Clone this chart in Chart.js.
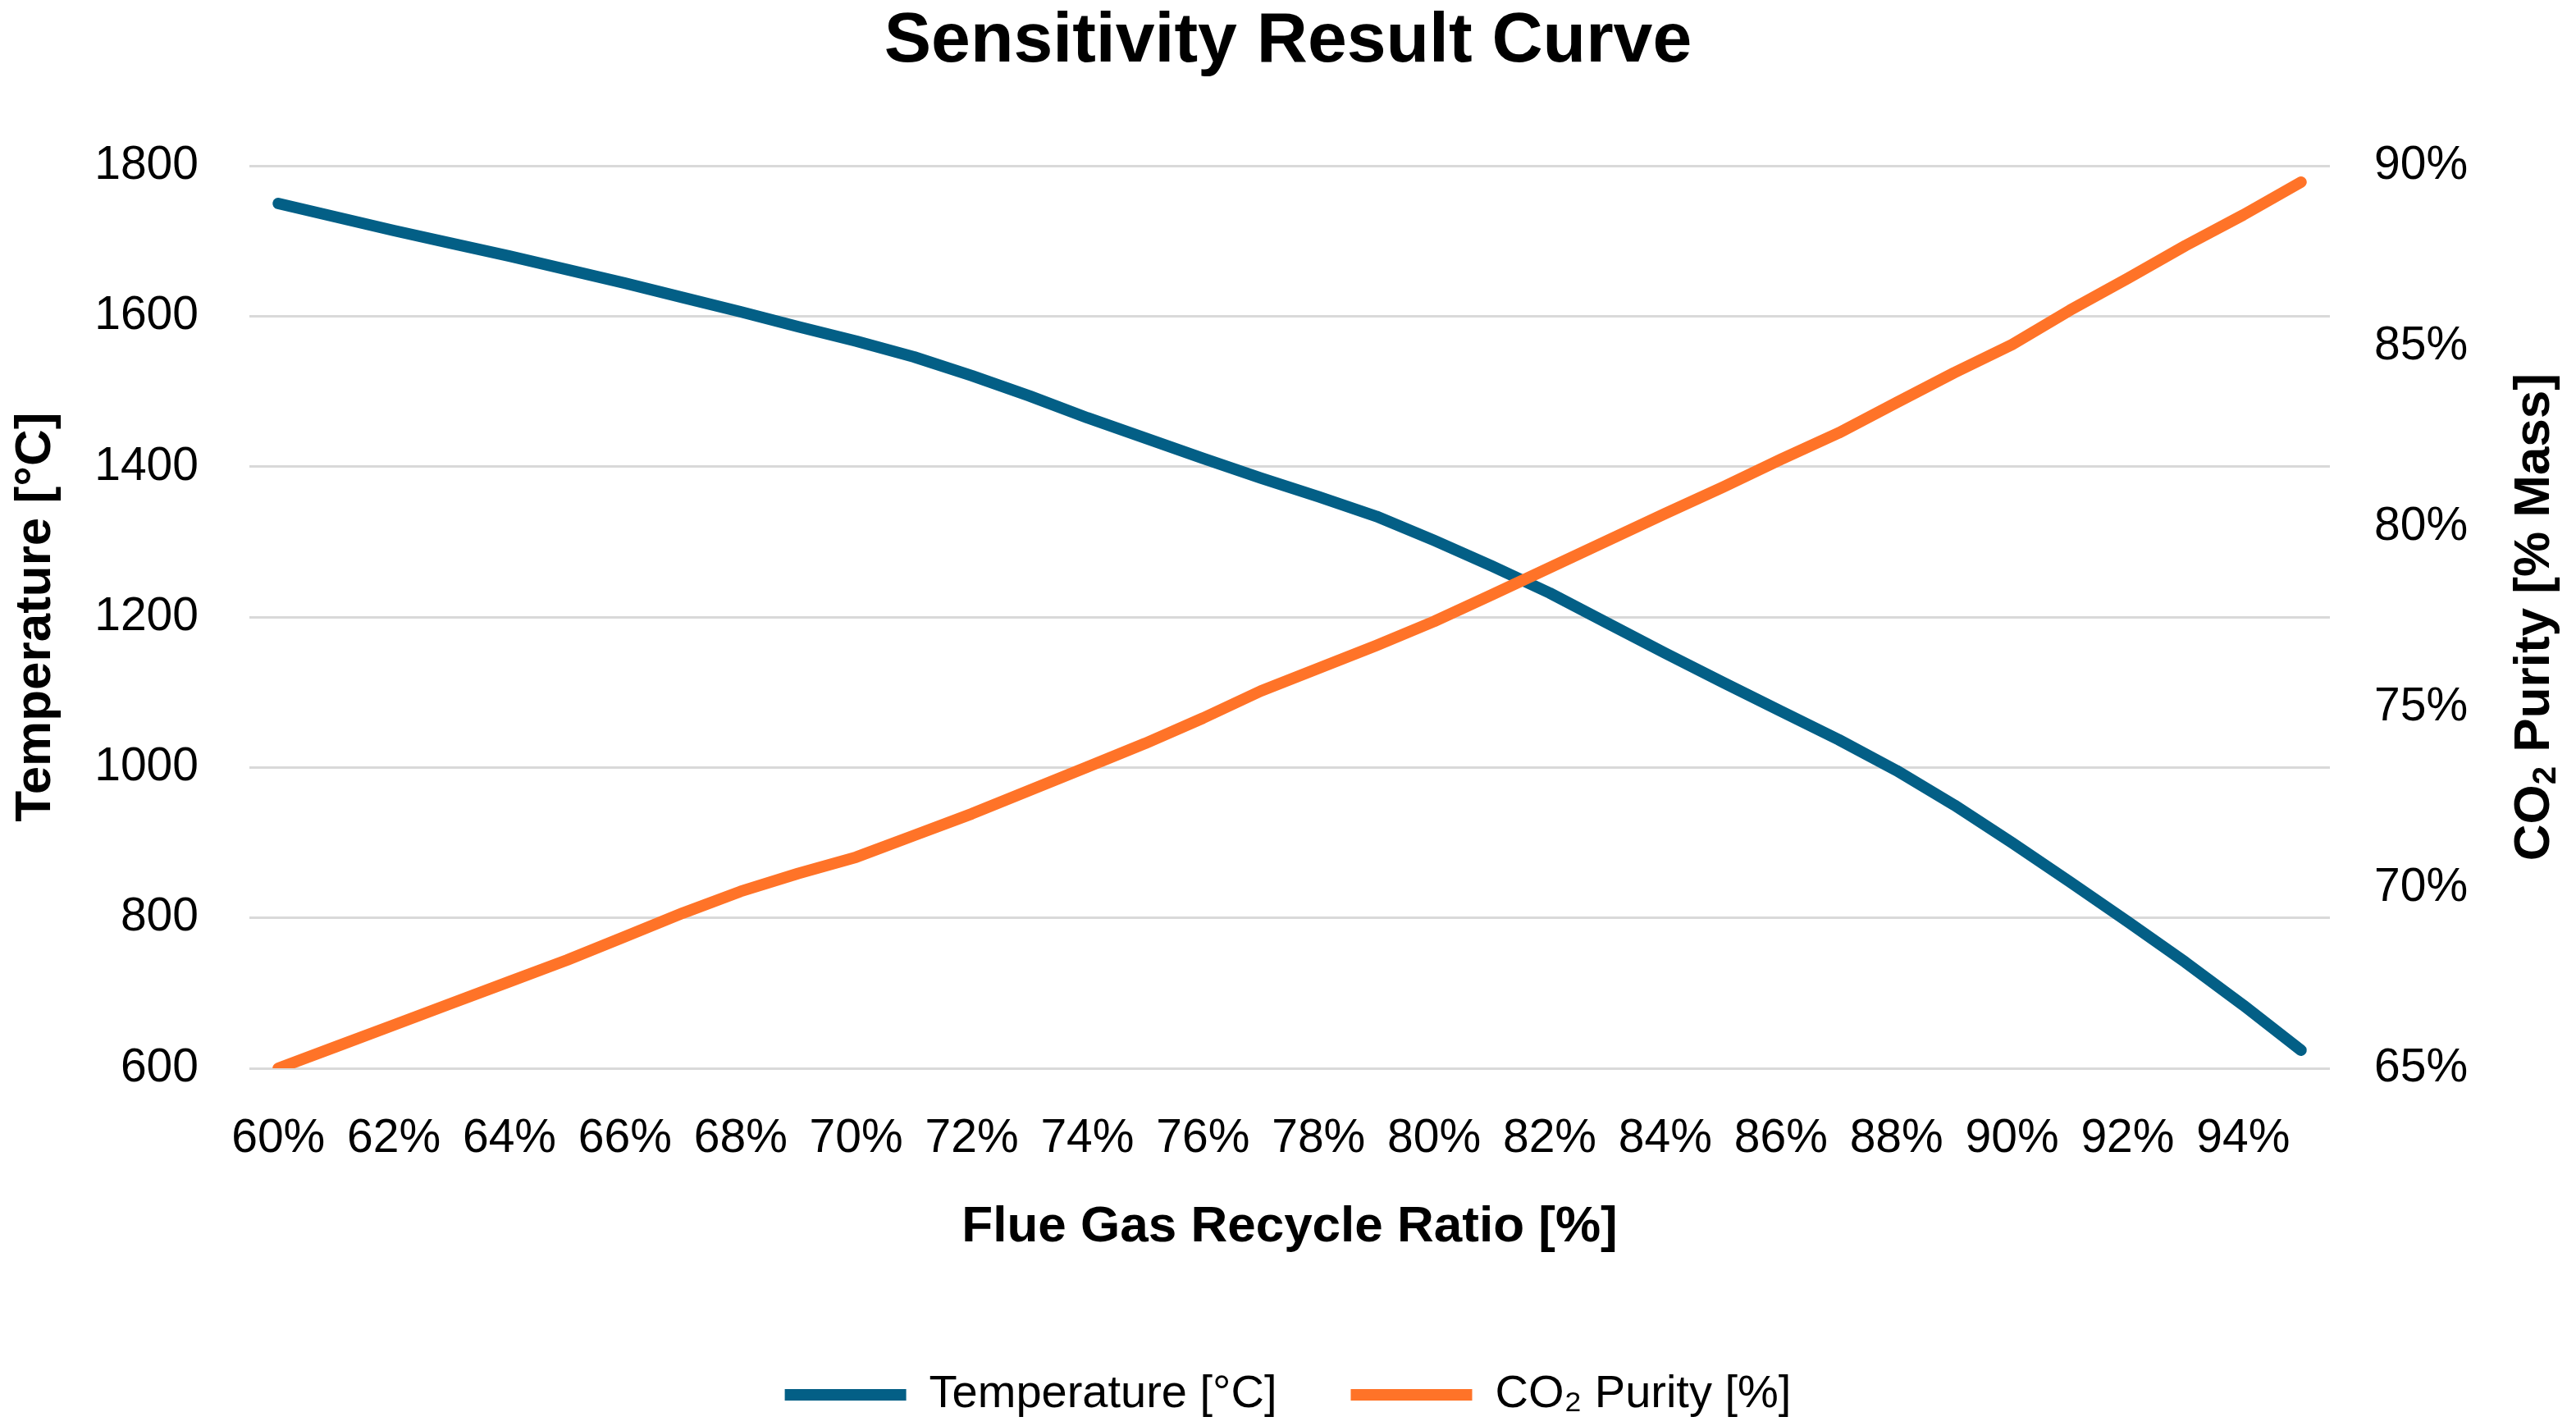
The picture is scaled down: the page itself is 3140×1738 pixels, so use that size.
<!DOCTYPE html>
<html>
<head>
<meta charset="utf-8">
<script src="https://cdn.jsdelivr.net/npm/chart.js@4.4.1/dist/chart.umd.min.js"></script>
<style>
  html, body { margin:0; padding:0; background:#fff; }
  #wrap { width:3140px; height:1738px; position:relative; }
</style>
</head>
<body>
<div id="wrap"><canvas id="chartSensibilidad"></canvas></div>
<script>
const FUENTE = "'Liberation Sans', Arial, sans-serif";

// ── Datos ──
const ratios = [60,61,62,63,64,65,66,67,68,69,70,71,72,73,74,75,76,77,
                78,79,80,81,82,83,84,85,86,87,88,89,90,91,92,93,94,95];
const temperatura = [1750,1732,1714,1697,1680,1662,1644,1625,1606,1586,1567,1546,
                     1521,1494,1465,1438,1411,1385,1360,1334,1302,1268,1232,1192,
                     1152,1113,1075,1037,996,950,900,848,795,741,684,624];
const pureza = [65.0,65.6,66.2,66.8,67.4,68.0,68.65,69.3,69.9,70.4,70.85,71.45,
                72.05,72.7,73.35,74.0,74.7,75.45,76.08,76.71,77.38,78.12,78.87,79.62,
                80.37,81.1,81.87,82.6,83.44,84.27,85.05,86.0,86.88,87.79,88.64,89.55];
const etiquetasX = ratios.map(r => r + '%');

const AZUL = '#035F86';
const NARANJA = '#FF7328';

// Título del eje derecho (Chart.js lo rota al revés en el lado derecho)
const tituloDerecho = {
  id: 'tituloDerecho',
  afterDraw(chart) {
    const { ctx, chartArea } = chart;
    const cy = (chartArea.top + chartArea.bottom) / 2;
    const grande = `bold 62px ${FUENTE}`, chico = `bold 40px ${FUENTE}`;
    const partes = [['CO', grande, 0], ['2', chico, 14], [' Purity [% Mass]', grande, 0]];
    ctx.save();
    ctx.translate(chart.width - 50, cy);
    ctx.rotate(-Math.PI / 2);
    ctx.fillStyle = '#000';
    ctx.textBaseline = 'middle';
    ctx.textAlign = 'left';
    let total = 0;
    partes.forEach(p => { ctx.font = p[1]; total += ctx.measureText(p[0]).width; });
    let x = -total / 2;
    partes.forEach(p => {
      ctx.font = p[1];
      ctx.fillText(p[0], x, p[2]);
      x += ctx.measureText(p[0]).width;
    });
    ctx.restore();
  }
};

const fuenteTicks = { family: FUENTE, size: 57 };
const fuenteTitulo = { family: FUENTE, size: 62, weight: 'bold' };

new Chart(document.getElementById('chartSensibilidad'), {
  type: 'line',
  data: {
    labels: etiquetasX,
    datasets: [
      { label: 'Temperature [°C]', data: temperatura, yAxisID: 'y',
        borderColor: AZUL, backgroundColor: AZUL, borderWidth: 14,
        borderCapStyle: 'round', borderJoinStyle: 'round',
        pointRadius: 0, tension: 0, order: 2 },
      { label: 'CO₂ Purity [%]', data: pureza, yAxisID: 'y1',
        borderColor: NARANJA, backgroundColor: NARANJA, borderWidth: 14,
        borderCapStyle: 'round', borderJoinStyle: 'round',
        pointRadius: 0, tension: 0, order: 1 },
    ]
  },
  options: {
    responsive: true, maintainAspectRatio: false, devicePixelRatio: 1,
    animation: false,
    layout: { padding: 0 },
    plugins: {
      title: { display: true, text: 'Sensitivity Result Curve', color: '#000',
        font: { family: FUENTE, size: 86, weight: 'bold' }, padding: { top: 0, bottom: 99 } },
      legend: { position: 'bottom',
        labels: { usePointStyle: true, pointStyle: 'line', pointStyleWidth: 148,
          color: '#000', font: { family: FUENTE, size: 56 }, padding: 90,
          sort: (a, b) => a.datasetIndex - b.datasetIndex } },
      tooltip: { enabled: false }
    },
    scales: {
      x: {
        type: 'category', offset: true,
        grid: { display: false }, border: { display: false },
        ticks: { autoSkip: false, maxRotation: 0, color: '#000', font: fuenteTicks, padding: 44,
          callback: (v, i) => i % 2 === 0 ? etiquetasX[i] : '' },
        title: { display: true, text: 'Flue Gas Recycle Ratio [%]', color: '#000',
          font: fuenteTitulo, padding: { top: 0, bottom: 49 } },
        afterFit: s => { s.height = 280; }
      },
      y: {
        position: 'left', min: 600, max: 1800,
        ticks: { stepSize: 200, padding: 62, color: '#000', font: fuenteTicks,
          callback: v => String(v) },
        grid: { color: '#D9D9D9', lineWidth: 3, drawTicks: false },
        border: { display: false },
        title: { display: true, text: 'Temperature [°C]', color: '#000',
          font: fuenteTitulo, padding: { top: 7, bottom: 0 } },
        afterFit: s => { s.width = 304; }
      },
      y1: {
        position: 'right', min: 65, max: 90,
        ticks: { stepSize: 5, padding: 54, color: '#000', font: fuenteTicks,
          callback: v => v + '%' },
        grid: { display: false, drawTicks: false },
        border: { display: false },
        afterFit: s => { s.width = 300; }
      }
    }
  },
  plugins: [tituloDerecho]
});
</script>
</body>
</html>
